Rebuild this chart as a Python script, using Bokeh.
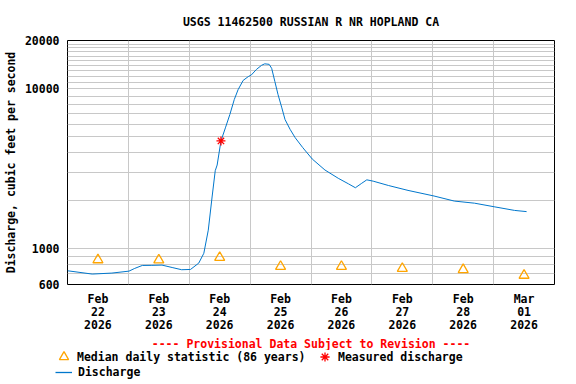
import pandas as pd
from bokeh.plotting import figure
from bokeh.layouts import column, row
from bokeh.models import (FixedTicker, Legend, LegendItem, Range1d, Title,
                          PrintfTickFormatter)
from bokeh.embed import file_html
from bokeh.resources import INLINE

# ---------------- data ----------------
title_text = "USGS 11462500 RUSSIAN R NR HOPLAND CA"
y_axis_title = "Discharge, cubic feet per second"
provisional_text = "---- Provisional Data Subject to Revision ----"

start_time = "2026-02-22 00:00"
end_time = "2026-03-02 00:00"

discharge_times = [
    "2026-02-22 00:00", "2026-02-22 09:45", "2026-02-22 17:30",
    "2026-02-23 00:15", "2026-02-23 02:30", "2026-02-23 05:30",
    "2026-02-23 09:15", "2026-02-23 13:15", "2026-02-23 17:15",
    "2026-02-23 21:00", "2026-02-24 00:30", "2026-02-24 03:45",
    "2026-02-24 05:45", "2026-02-24 07:30", "2026-02-24 09:00",
    "2026-02-24 10:15", "2026-02-24 11:00", "2026-02-24 12:30",
    "2026-02-24 14:15", "2026-02-24 16:00", "2026-02-24 17:45",
    "2026-02-24 19:15", "2026-02-24 21:15", "2026-02-24 23:15",
    "2026-02-25 00:30", "2026-02-25 02:30", "2026-02-25 04:30",
    "2026-02-25 05:45", "2026-02-25 07:30", "2026-02-25 08:30",
    "2026-02-25 09:45", "2026-02-25 11:00", "2026-02-25 12:30",
    "2026-02-25 13:45", "2026-02-25 15:45", "2026-02-25 17:45",
    "2026-02-25 20:45", "2026-02-26 00:30", "2026-02-26 05:30",
    "2026-02-26 10:45", "2026-02-26 14:45", "2026-02-26 17:30",
    "2026-02-26 20:00", "2026-02-26 22:00", "2026-02-27 00:30",
    "2026-02-27 06:30", "2026-02-27 14:15", "2026-02-28 00:30",
    "2026-02-28 08:30", "2026-02-28 16:30", "2026-03-01 00:30",
    "2026-03-01 08:15", "2026-03-01 13:00",
]
discharge_cfs = [
    731, 697, 707,
    727, 756, 789,
    790, 793, 766,
    742, 745, 816,
    940, 1310, 2110,
    3080, 3340, 4720,
    5700, 6900, 8560,
    9860, 11270, 11900,
    12200, 13200, 14000,
    14300, 14200, 13400,
    11100, 9200, 7600,
    6430, 5580, 4950,
    4290, 3640, 3110,
    2760, 2550, 2410,
    2570, 2700, 2650,
    2490, 2320, 2140,
    1990, 1930, 1830,
    1740, 1710,
]

median_times = [
    "2026-02-22 12:00", "2026-02-23 12:00", "2026-02-24 12:00",
    "2026-02-25 12:00", "2026-02-26 12:00", "2026-02-27 12:00",
    "2026-02-28 12:00", "2026-03-01 12:00",
]
median_cfs = [855, 853, 884, 777, 777, 755, 742, 684]

measured_times = ["2026-02-24 12:30"]
measured_cfs = [4720]

legend_labels = ["Median daily statistic (86 years)", "Measured discharge",
                 "Discharge"]

day_tick_times = median_times
day_tick_labels = [
    "Feb\n22\n2026", "Feb\n23\n2026", "Feb\n24\n2026", "Feb\n25\n2026",
    "Feb\n26\n2026", "Feb\n27\n2026", "Feb\n28\n2026", "Mar\n01\n2026",
]
day_grid_times = [
    "2026-02-23 00:00", "2026-02-24 00:00", "2026-02-25 00:00",
    "2026-02-26 00:00", "2026-02-27 00:00", "2026-02-28 00:00",
    "2026-03-01 00:00",
]

y_tick_values = [600, 1000, 10000, 20000]
y_tick_labels = ["600", "1000", "10000", "20000"]
y_grid_values = [600, 700, 800, 900, 1000, 2000, 3000, 4000, 5000, 6000,
                 7000, 8000, 9000, 10000, 11000, 12000, 13000, 14000,
                 15000, 16000, 17000, 18000, 19000, 20000]

# ---------------- helpers ----------------
t0 = pd.Timestamp(start_time)


def to_days(times):
    return [(pd.Timestamp(t) - t0) / pd.Timedelta(days=1) for t in times]


FONT = "DejaVu Sans Mono"
FS = "11.5px"
LINE_COLOR = "#0077cc"
MEDIAN_COLOR = "#ffa500"
MEASURED_COLOR = "#ff0000"

x_end = to_days([end_time])[0]

# ---------------- main chart ----------------
p = figure(width=560, height=350, y_axis_type="log",
           x_range=Range1d(0, x_end), y_range=Range1d(600, 20000),
           output_backend="svg", toolbar_location=None,
           min_border_left=65, min_border_right=6,
           min_border_top=40, min_border_bottom=66)

p.background_fill_color = "white"
p.border_fill_color = "white"
p.outline_line_color = "black"
p.outline_line_width = 1
p.outline_line_alpha = 1

p.title.text = title_text
p.title.align = "center"
p.title.text_font = FONT
p.title.text_font_size = FS
p.title.text_font_style = "bold"
p.title.text_color = "black"
p.title.standoff = 24

p.xgrid.ticker = FixedTicker(ticks=to_days(day_grid_times))
p.ygrid.ticker = FixedTicker(ticks=y_grid_values)
for g in (p.xgrid[0], p.ygrid[0]):
    g.grid_line_color = "#c8c8c8"
    g.grid_line_width = 1
    g.grid_line_alpha = 1

xt = to_days(day_tick_times)
p.xaxis.ticker = FixedTicker(ticks=xt)
p.xaxis.major_label_overrides = {v: lab for v, lab in zip(xt, day_tick_labels)}
p.yaxis.ticker = FixedTicker(ticks=y_tick_values)
p.yaxis.formatter = PrintfTickFormatter(format="%d")
p.yaxis.major_label_overrides = {v: lab for v, lab in zip(y_tick_values, y_tick_labels)}
for ax in (p.xaxis[0], p.yaxis[0]):
    ax.axis_line_color = None
    ax.major_tick_line_color = None
    ax.minor_tick_line_color = None
    ax.major_tick_out = 0
    ax.major_tick_in = 0
    ax.major_label_text_font = FONT
    ax.major_label_text_font_size = FS
    ax.major_label_text_font_style = "bold"
    ax.major_label_text_color = "black"
    ax.major_label_standoff = 8
p.xaxis.major_label_standoff = 7
p.xaxis.major_label_text_line_height = 0.94

p.yaxis.axis_label = y_axis_title
p.yaxis.axis_label_text_font = FONT
p.yaxis.axis_label_text_font_size = FS
p.yaxis.axis_label_text_font_style = "bold"
p.yaxis.axis_label_text_color = "black"
p.yaxis.axis_label_standoff = 4

p.line(to_days(discharge_times), discharge_cfs, line_color=LINE_COLOR,
       line_width=1)
p.scatter(to_days(median_times), median_cfs, marker="triangle", size=10,
          line_color=MEDIAN_COLOR, fill_color=None, line_width=1.3)
p.scatter(to_days(measured_times), measured_cfs, marker="asterisk", size=9,
          line_color=MEASURED_COLOR, line_width=1.3)

prov = Title(text=provisional_text, align="center", text_font=FONT,
             text_font_size=FS, text_font_style="bold",
             text_color=MEASURED_COLOR, standoff=0)
p.add_layout(prov, "below")

# ---------------- legend strip ----------------
q = figure(width=560, height=30, x_range=Range1d(0, 1), y_range=Range1d(0, 1),
           output_backend="svg", toolbar_location=None,
           x_axis_location=None, y_axis_location=None,
           min_border_left=0, min_border_right=0, min_border_top=0,
           min_border_bottom=0)
q.xgrid.visible = False
q.ygrid.visible = False
q.outline_line_color = None
q.background_fill_color = "white"
q.border_fill_color = "white"

# legend keys (same series styling; hidden in this strip, shown only as keys)
k_med = q.scatter(to_days(median_times), median_cfs, marker="triangle",
                  size=10, line_color=MEDIAN_COLOR, fill_color=None,
                  line_width=1.3, visible=False)
k_meas = q.scatter(to_days(measured_times), measured_cfs, marker="asterisk",
                   size=9, line_color=MEASURED_COLOR, line_width=1.3,
                   visible=False)
k_line = q.line(to_days(discharge_times), discharge_cfs, line_color=LINE_COLOR,
                line_width=1.3, visible=False)

common = dict(label_text_font=FONT, label_text_font_size=FS,
              label_text_font_style="bold", label_text_color="black",
              spacing=0, padding=0, margin=0, inactive_fill_alpha=0,
              background_fill_alpha=0, border_line_alpha=0)

# first legend row: the two point symbols
legend_row1 = Legend(items=[
    LegendItem(label=legend_labels[0], renderers=[k_med]),
    LegendItem(label=legend_labels[1], renderers=[k_meas]),
], orientation="horizontal", location=(52, 12),
    glyph_width=23, glyph_height=23, label_height=16, label_width=236,
    label_standoff=2, **common)
q.add_layout(legend_row1, "center")

# second legend row: the discharge line
legend_row2 = Legend(items=[
    LegendItem(label=legend_labels[2], renderers=[k_line]),
], orientation="horizontal", location=(55, 0),
    glyph_width=17, glyph_height=16, label_height=16, label_width=60,
    label_standoff=6, **common)
q.add_layout(legend_row2, "center")

layout = column(p, row(q), spacing=0)
open("out.html", "w").write(file_html(layout, INLINE))
